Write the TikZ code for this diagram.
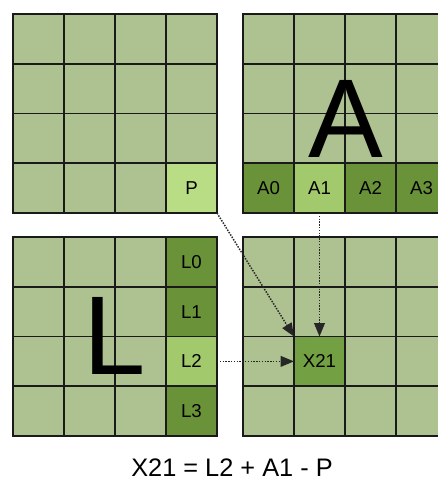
\documentclass[tikz,border=0pt]{standalone}
\usepackage{fontspec}
\setmainfont{Liberation Sans}
\usetikzlibrary{arrows.meta}
\definecolor{base}{HTML}{ADC191}
\definecolor{pcol}{HTML}{B9DD84}
\definecolor{mid}{HTML}{A2C96C}
\definecolor{dark}{HTML}{6A9339}
\definecolor{xcol}{HTML}{72A042}
\definecolor{gridline}{HTML}{1A1A1A}
\begin{document}
\begin{tikzpicture}[x=0.75pt,y=-0.75pt,
  cell/.style={draw=gridline, line width=1.4pt, fill=base, minimum width=38.25pt,
    minimum height=37.3pt, inner sep=0pt, outer sep=0pt, font=\fontsize{14}{14}\selectfont},
  link/.style={draw=black!85, line width=1.1pt, densely dotted,
    -{Triangle[length=10pt,width=8pt]}},
  big/.style={font=\fontsize{84}{84}\selectfont, inner sep=0pt, anchor=base}]
\useasboundingbox (0,0) rectangle (438,480);
\fill[white] (0,0) rectangle (438,480);
\clip (0,0) rectangle (438,480);
\foreach \r in {0,...,3}{
  \foreach \c in {0,...,3}{
    \node[cell] (TL-\r-\c) at ({38.5+51*\c},{38.875+49.75*\r}) {};
    \node[cell] (TR-\r-\c) at ({268.5+51*\c},{38.875+49.75*\r}) {};
    \node[cell] (BL-\r-\c) at ({38.5+51*\c},{261.875+49.75*\r}) {};
    \node[cell] (BR-\r-\c) at ({268.5+51*\c},{261.875+49.75*\r}) {};
  }
}
% highlighted cells
\node[cell, fill=pcol] (P) at (TL-3-3) {P};
\node[cell, fill=dark] (A0) at (TR-3-0) {A0};
\node[cell, fill=mid] (A1) at (TR-3-1) {A1};
\node[cell, fill=dark] (A2) at (TR-3-2) {A2};
\node[cell, fill=dark] (A3) at (TR-3-3) {A3};
\node[cell, fill=dark] (L0) at (BL-0-3) {L0};
\node[cell, fill=dark] (L1) at (BL-1-3) {L1};
\node[cell, fill=mid] (L2) at (BL-2-3) {L2};
\node[cell, fill=dark] (L3) at (BL-3-3) {L3};
\node[cell, fill=xcol] (X21) at (BR-2-1) {X21};
% big letters
\node[big] (bigA) at (345.5,157) {A};
\node[big] (bigL) at (115,374) {L};
% connectors
\draw[link] (P.south east) -- (X21.north west);
\draw[link] (A1.south) -- (X21.north);
\draw[link] (L2.east) -- (X21.west);
% equation
\node[font=\fontsize{19}{19}\selectfont, anchor=base, inner sep=0pt] (eq) at (232,476) {X21 = L2 + A1 - P};
\end{tikzpicture}
\end{document}
